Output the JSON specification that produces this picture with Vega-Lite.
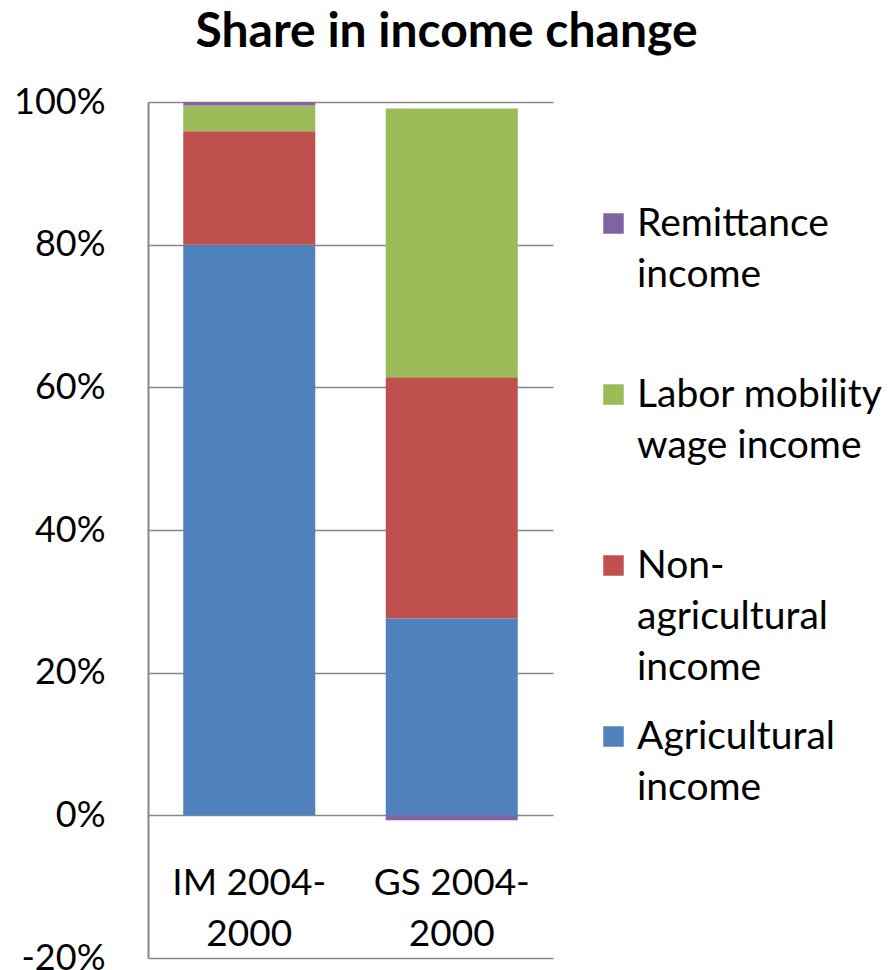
{
  "$schema": "https://vega.github.io/schema/vega-lite/v6.json",
  "width": 405,
  "height": 856,
  "autosize": {"type": "none"},
  "padding": {"left": 148, "top": 102, "right": 337, "bottom": 12},
  "title": {"text": "Share in income change", "fontSize": 48, "font": "Lato", "fontWeight": "bold", "anchor": "middle", "frame": "group", "dx": 96, "offset": 27, "color": "#000000"},
  "data": {"values": [
    {"period": "IM 2004-2000", "source": "Agricultural income", "k": 1, "share": 0.80},
    {"period": "IM 2004-2000", "source": "Non-agricultural income", "k": 2, "share": 0.159},
    {"period": "IM 2004-2000", "source": "Labor mobility wage income", "k": 3, "share": 0.036},
    {"period": "IM 2004-2000", "source": "Remittance income", "k": 4, "share": 0.005},
    {"period": "GS 2004-2000", "source": "Agricultural income", "k": 1, "share": 0.276},
    {"period": "GS 2004-2000", "source": "Non-agricultural income", "k": 2, "share": 0.338},
    {"period": "GS 2004-2000", "source": "Labor mobility wage income", "k": 3, "share": 0.377},
    {"period": "GS 2004-2000", "source": "Remittance income", "k": 4, "share": -0.007}
  ]},
  "mark": {"type": "bar", "size": 132},
  "encoding": {
    "x": {
      "field": "period", "type": "nominal", "sort": ["IM 2004-2000", "GS 2004-2000"],
      "scale": {"paddingInner": 0, "paddingOuter": 0},
      "axis": {"title": null, "domain": false, "ticks": false, "labelPadding": -93, "labelFontSize": 37, "labelAngle": 0, "labelColor": "#000000", "labelFont": "Lato",
               "labelExpr": "[slice(datum.label, 0, 8), slice(datum.label, 8)]"}
    },
    "y": {
      "field": "share", "type": "quantitative", "stack": "zero",
      "scale": {"domain": [-0.2, 1], "nice": false, "zero": false},
      "axis": {"title": null, "values": [-0.2, 0, 0.2, 0.4, 0.6, 0.8, 1], "grid": true, "gridColor": "#878787", "gridWidth": 1.5,
               "labelExpr": "(datum.value < 0 ? '-' : '') + format(abs(datum.value), '.0%')",
               "domainColor": "#878787", "domainWidth": 2, "ticks": false, "labelPadding": 43, "labelFontSize": 36, "labelFont": "Lato", "labelColor": "#000000"}
    },
    "color": {
      "field": "source", "type": "nominal",
      "scale": {"domain": ["Remittance income", "Labor mobility wage income", "Non-agricultural income", "Agricultural income"],
                "range": ["#8064A2", "#9BBB59", "#C0504D", "#4F81BD"]},
      "legend": {"orient": "none", "legendX": 446, "legendY": 102, "title": null, "symbolType": "square", "symbolSize": 420, "symbolStrokeWidth": 0,
                 "labelFontSize": 39, "labelFont": "Lato", "labelColor": "#000000", "labelOffset": 4, "labelBaseline": "middle", "labelLimit": 400,
                 "padding": 0, "rowPadding": 29, "gridAlign": "all",
                 "labelExpr": "datum.label == 'Remittance income' ? ['Remittance', 'income', ''] : datum.label == 'Labor mobility wage income' ? ['Labor mobility', 'wage income', ''] : datum.label == 'Non-agricultural income' ? ['Non-', 'agricultural', 'income'] : ['Agricultural', 'income', '']"}
    },
    "order": {"field": "k", "type": "quantitative"}
  },
  "config": {
    "font": "Lato",
    "style": {"guide-label": {"lineHeight": 51}},
    "view": {"stroke": null}
  }
}
